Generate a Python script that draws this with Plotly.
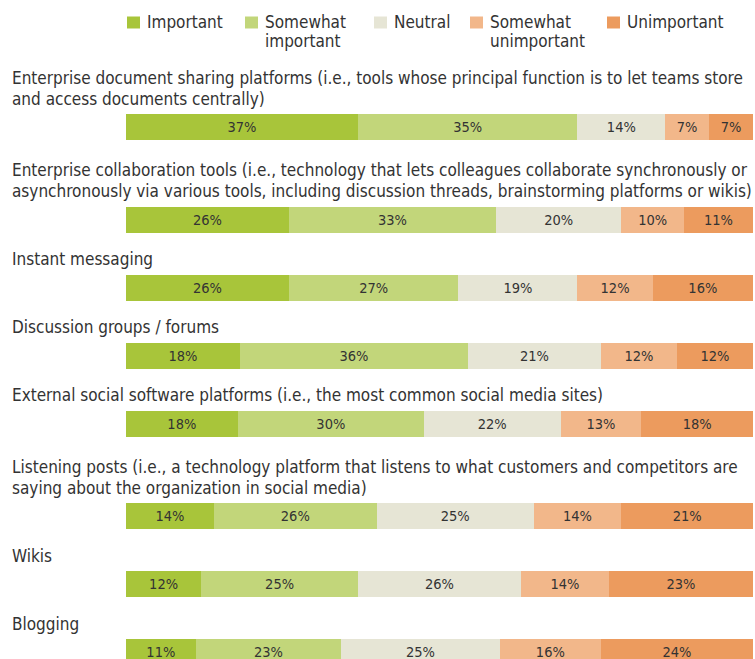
import plotly.graph_objects as go

# Survey categories (line breaks mark where each title wraps)
categories = [
    "Enterprise document sharing platforms (i.e., tools whose principal function is to let teams store<br>and access documents centrally)",
    "Enterprise collaboration tools (i.e., technology that lets colleagues collaborate synchronously or<br>asynchronously via various tools, including discussion threads, brainstorming platforms or wikis)",
    "Instant messaging",
    "Discussion groups / forums",
    "External social software platforms (i.e., the most common social media sites)",
    "Listening posts (i.e., a technology platform that listens to what customers and competitors are<br>saying about the organization in social media)",
    "Wikis",
    "Blogging",
]

series_names = ["Important", "Somewhat important", "Neutral", "Somewhat unimportant", "Unimportant"]
legend_labels = ["Important", "Somewhat<br>important", "Neutral", "Somewhat<br>unimportant", "Unimportant"]

important = [37, 26, 26, 18, 18, 14, 12, 11]
somewhat_important = [35, 33, 27, 36, 30, 26, 25, 23]
neutral = [14, 20, 19, 21, 22, 25, 26, 25]
somewhat_unimportant = [7, 10, 12, 12, 13, 14, 14, 16]
unimportant = [7, 11, 16, 12, 18, 21, 23, 24]

series_values = [important, somewhat_important, neutral, somewhat_unimportant, unimportant]
colors = ["#a8c53a", "#c2d67a", "#e6e5d5", "#f2b78a", "#ec9b5e"]

FONT = "DejaVu Sans Condensed, Liberation Sans Narrow, sans-serif"
TEXT_COLOR = "#333333"

W, H = 755, 659
BAR_LEFT, BAR_RIGHT = 126, 753
PLOT_W = BAR_RIGHT - BAR_LEFT

# Vertical layout (in pixels, y axis runs top-down in pixel units)
first_center = 127
base_pitch = 68
extra_line = 24.5
title_gap = 28.5
line_h = 21
bar_h = 26

n_lines = [c.count("<br>") + 1 for c in categories]
centers = []
y = first_center
for i, n in enumerate(n_lines):
    if i > 0:
        y += base_pitch + extra_line * (n - 1)
    centers.append(y)

fig = go.Figure()
for name, vals, col in zip(series_names, series_values, colors):
    fig.add_trace(go.Bar(
        x=vals,
        y=centers,
        orientation="h",
        width=bar_h,
        name=name,
        marker=dict(color=col, line=dict(width=0)),
        text=[f"{v}%" for v in vals],
        textposition="inside",
        insidetextanchor="middle",
        textangle=0,
        textfont=dict(family=FONT, size=14.5, color=TEXT_COLOR),
        showlegend=False,
        hoverinfo="skip",
    ))

annotations = []
# Category titles above each bar
for cat, c, n in zip(categories, centers, n_lines):
    lines = cat.split("<br>")
    for k, ln in enumerate(lines):
        ly = c - title_gap - (n - 1 - k) * line_h
        annotations.append(dict(
            text=ln, xref="paper", yref="y", x=(10 - BAR_LEFT) / PLOT_W, y=ly,
            xanchor="left", yanchor="middle", showarrow=False,
            font=dict(family=FONT, size=17, color=TEXT_COLOR),
        ))

# Custom legend: coloured squares and labels
legend_sq_x = [127, 245, 374, 470, 607]
shapes = []
for lab, col, sx in zip(legend_labels, colors, legend_sq_x):
    shapes.append(dict(
        type="rect", xref="paper", yref="paper",
        x0=(sx - BAR_LEFT) / PLOT_W, x1=(sx + 13 - BAR_LEFT) / PLOT_W,
        y0=1 - 28.5 / H, y1=1 - 16.5 / H,
        fillcolor=col, line=dict(width=0),
    ))
    for k, ln in enumerate(lab.split("<br>")):
        annotations.append(dict(
            text=ln, xref="paper", yref="paper",
            x=(sx + 18 - BAR_LEFT) / PLOT_W, y=1 - (22 + k * 19) / H,
            xanchor="left", yanchor="middle", showarrow=False,
            font=dict(family=FONT, size=17, color=TEXT_COLOR),
        ))

fig.update_layout(
    width=W, height=H,
    margin=dict(l=BAR_LEFT, r=W - BAR_RIGHT, t=0, b=0),
    barmode="stack", barnorm="percent",
    plot_bgcolor="white", paper_bgcolor="white",
    xaxis=dict(range=[0, 100], visible=False, fixedrange=True),
    yaxis=dict(range=[H, 0], visible=False, fixedrange=True),
    annotations=annotations, shapes=shapes,
    uniformtext=dict(minsize=14, mode="show"),
    font=dict(family=FONT, color=TEXT_COLOR),
)

fig.write_html("out.html")
